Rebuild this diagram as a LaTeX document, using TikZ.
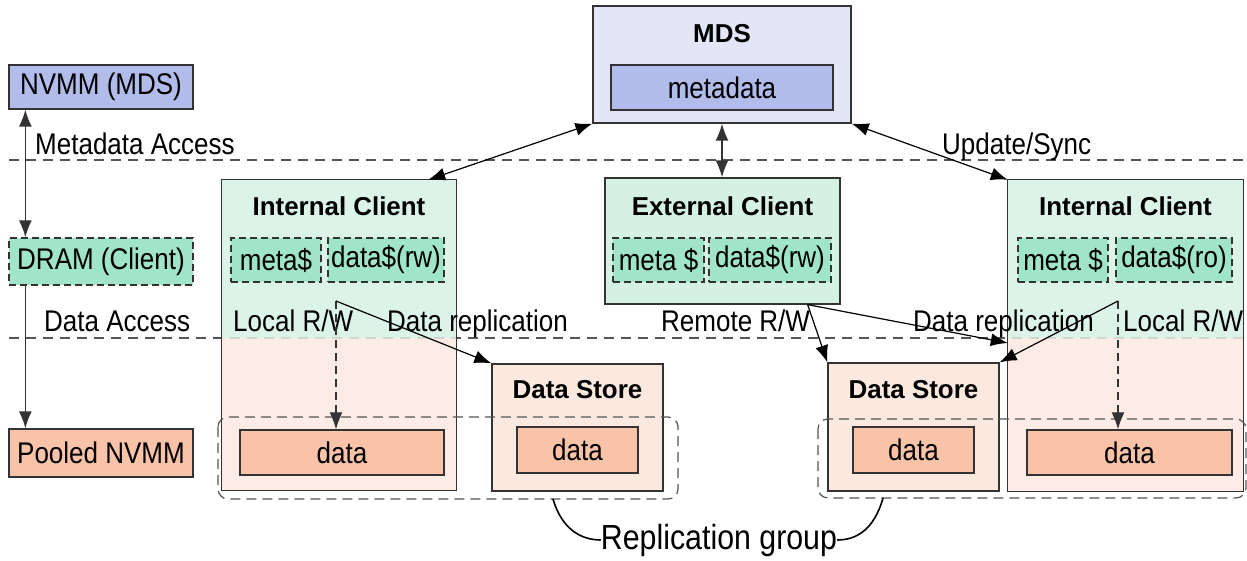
\documentclass[tikz,border=0pt]{standalone}
\usepackage{fontspec}
\setmainfont{Liberation Sans}
\newfontfamily\narrowf[FakeStretch=0.87]{Liberation Sans}
\usetikzlibrary{arrows.meta}
\definecolor{mdsbg}{HTML}{E3E6F7}
\definecolor{mdsin}{HTML}{B2BCEB}
\definecolor{clibg}{HTML}{D5F1E4}
\definecolor{cliin}{HTML}{A0E5C9}
\definecolor{stobg}{HTML}{FBE9E0}
\definecolor{stoin}{HTML}{F8C3A8}
\definecolor{edge}{HTML}{333333}
\definecolor{sepc}{HTML}{555555}
\tikzset{
  x=1bp, y=-1bp,
  txt/.style={font=\narrowf\fontsize{30}{34}\selectfont, inner sep=0pt},
  ttl/.style={font=\bfseries\fontsize{26}{31}\selectfont, inner sep=0pt},
  rect/.style 2 args={minimum width=#1bp, minimum height=#2bp},
  box/.style={draw=edge, line width=1.3bp, inner sep=0pt, txt},
  cache/.style={box, fill=cliin, dash pattern=on 7bp off 4bp},
  sepline/.style={draw=sepc, line width=1.2bp, dash pattern=on 10bp off 7bp},
  group/.style={draw=sepc, line width=1.2bp, rounded corners=10bp, dash pattern=on 10bp off 6bp},
  tip/.tip={Latex[length=17bp,width=13bp]},
  arr/.style={-tip, line width=1.2bp},
  biarr/.style={tip-tip, line width=1.2bp},
  brace/.style={line width=1.6bp},
}
\begin{document}
\begin{tikzpicture}
\useasboundingbox (0,0) rectangle (1247,561);

% layer separators
\draw[sepline] (9,160) -- (1247,160);
\draw[sepline] (9,338) -- (1247,338);

% legend column
\node[box, rect={184}{44}, fill=mdsin] (nvmm) at (101,87) {NVMM (MDS)};
\node[box, rect={184}{47}, fill=cliin, dash pattern=on 7bp off 4bp] (dram) at (101,261.5) {DRAM (Client)};
\node[box, rect={184}{48}, fill=stoin] (pool) at (101,453) {Pooled NVMM};
\draw[biarr, draw=edge, line width=1.5bp] ([xshift=17bp]nvmm.south west) -- ([xshift=17bp]dram.north west);
\draw[arr, draw=edge, line width=1.5bp] ([xshift=17bp]dram.south west) -- ([xshift=17bp]pool.north west);
\node[txt, anchor=base west, fill=white, inner xsep=2bp] (lmeta) at (33,155) {Metadata Access};
\node[txt, anchor=base west, fill=white, inner xsep=2bp] (ldata) at (42,332) {Data Access};

% metadata server
\node[box, rect={258}{117}, fill=mdsbg] (mds) at (722,64.5) {};
\node[ttl] (mdst) at (722,34) {MDS};
\node[box, rect={222}{45}, fill=mdsin] (meta) at (722,87.5) {metadata};

% internal client (left): cache layer on top, pooled layer below
\node[rect={234}{310}, inner sep=0pt] (icl) at (339,335) {};
\fill[clibg, opacity=0.85] (icl.north west) rectangle (icl.east |- 0,338);
\fill[stobg, opacity=0.85] (icl.south west) rectangle (icl.east |- 0,338);
\draw[edge, line width=1.3bp] (icl.south west) rectangle (icl.north east);
\node[ttl] (iclt) at (339,206) {Internal Client};
\node[cache, rect={90}{44}] (iclm) at (276,260) {meta\$};
\node[cache, rect={116}{44}] (icld) at (386,260) {data\$(rw)};
\node[box, rect={204}{45}, fill=stoin] (icldata) at (342,452.5) {data};

% external client
\node[box, rect={235}{126}, fill=clibg] (ext) at (722.5,241) {};
\node[ttl] (extt) at (722.5,206) {External Client};
\node[cache, rect={91}{44}] (extm) at (658.5,260) {meta \$};
\node[cache, rect={122}{44}] (extd) at (770,260) {data\$(rw)};

% internal client (right)
\node[rect={235}{311}, inner sep=0pt] (icr) at (1125.5,335.5) {};
\fill[clibg, opacity=0.85] (icr.north west) rectangle (icr.east |- 0,338);
\fill[stobg, opacity=0.85] (icr.south west) rectangle (icr.east |- 0,338);
\draw[edge, line width=1.3bp] (icr.south west) rectangle (icr.north east);
\node[ttl] (icrt) at (1125.5,206) {Internal Client};
\node[cache, rect={90}{44}] (icrm) at (1063,260) {meta \$};
\node[cache, rect={116}{44}] (icrd) at (1174,260) {data\$(ro)};
\node[box, rect={205}{45}, fill=stoin] (icrdata) at (1129.5,452.5) {data};

% data stores
\node[box, rect={171}{127}, fill=stobg] (dsl) at (577.5,427.5) {};
\node[ttl] (dslt) at (577.5,390) {Data Store};
\node[box, rect={121}{46}, fill=stoin] (dsldata) at (577.5,450) {data};
\node[box, rect={171}{128}, fill=stobg] (dsr) at (913.5,427) {};
\node[ttl] (dsrt) at (913.5,390) {Data Store};
\node[box, rect={121}{46}, fill=stoin] (dsrdata) at (913.5,450) {data};

% replication groups
\draw[group] (218,417) rectangle (678,499);
\draw[group] (818,419) rectangle (1246,498);
\node[txt, font=\narrowf\fontsize{35}{40}\selectfont] (rg) at (719,540) {Replication group};
\coordinate (gl) at (553,499);
\coordinate (gr) at (883,498);
\draw[brace] (gl) .. controls (562,530) and (582,540) .. (rg.west);
\draw[brace] (gr) .. controls (874,530) and (856,540) .. (rg.east);

% access labels
\node[txt, anchor=base west] (lrwl) at (233,332) {Local R/W};
\node[txt, anchor=base west] (drl) at (387,332) {Data replication};
\node[txt, anchor=base west] (rrw) at (661,332) {Remote R/W};
\node[txt, anchor=base west] (drr) at (913,332) {Data replication};
\node[txt, anchor=base west] (lrwr) at (1123,332) {Local R/W};
\node[txt, anchor=base west] (upd) at (942,155) {Update/Sync};

% metadata paths
\draw[biarr] (mds.south west) -- ([xshift=-28bp]icl.north east);
\draw[biarr, draw=edge, line width=1.5bp] (mds.south) -- (mds.south |- ext.north);
\draw[biarr] (mds.south east) -- (icr.north west);

% data paths
\coordinate (lsplit) at (336,301);
\coordinate (rsplit) at (1118,301);
\coordinate (esplit) at ([xshift=-33bp]ext.south east);
\draw[arr, draw=edge, dash pattern=on 8bp off 5bp] (lsplit) -- (lsplit |- icldata.north);
\draw[arr] (lsplit) -- (dsl.north west);
\draw[arr, draw=edge, dash pattern=on 8bp off 5bp] (rsplit) -- (rsplit |- icrdata.north);
\draw[arr] (rsplit) -- (dsr.north east);
\draw[arr] (esplit) -- (dsr.north west);
\draw[arr] (esplit) -- ([yshift=-7.5bp]icr.west);
\end{tikzpicture}
\end{document}
